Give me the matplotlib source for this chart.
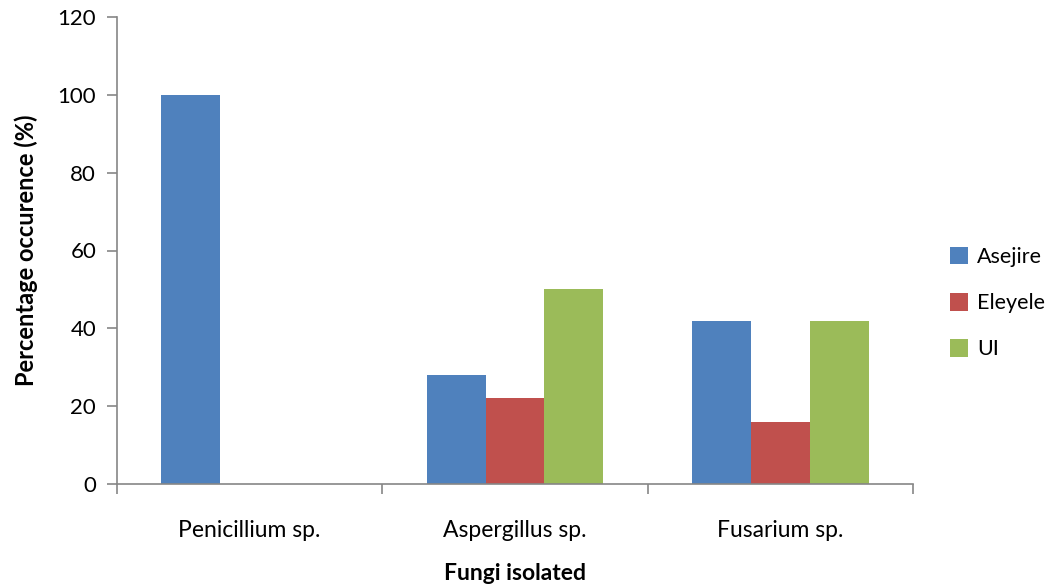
import matplotlib
matplotlib.use("Agg")
import matplotlib.pyplot as plt
import numpy as np

categories = ["Penicillium sp.", "Aspergillus sp.", "Fusarium sp."]
series_names = ["Asejire", "Eleyele", "UI"]
asejire = [100, 28, 42]
eleyele = [0, 22, 16]
ui = [0, 50, 42]
colors = ["#4F81BD", "#C0504D", "#9BBB59"]
yticks = [0, 20, 40, 60, 80, 100, 120]

plt.rcParams['font.family'] = ['Lato', 'DejaVu Sans']

fig = plt.figure(figsize=(10.49, 5.86), dpi=100)
ax = fig.add_axes([117/1049, 1-484/586, (913-117)/1049, (484-17)/586])

x = np.arange(len(categories))
bw = 1/4.5
for i, (vals, name) in enumerate(zip([asejire, eleyele, ui], series_names)):
    ax.bar(x + (i-1)*bw, vals, width=bw, color=colors[i], label=name, zorder=2)

ax.set_xlim(-0.5, len(categories)-0.5)
ax.set_ylim(0, 120)
ax.set_yticks(yticks)
ax.set_yticklabels([str(v) for v in yticks], fontsize=16)
ax.set_xticks(x)
ax.set_xticklabels(categories, fontsize=16.5)
ax.set_xticks(np.arange(-0.5, len(categories)), minor=True)
ax.tick_params(axis='x', which='major', length=0, pad=26)
ax.tick_params(axis='x', which='minor', length=7, width=1.2, color='#868686', direction='out')
ax.tick_params(axis='y', length=7, width=1.2, color='#868686', direction='out', pad=8)

for s in ['top', 'right']:
    ax.spines[s].set_visible(False)
for s in ['left', 'bottom']:
    ax.spines[s].set_color('#868686')
    ax.spines[s].set_linewidth(1.2)

ax.set_xlabel("Fungi isolated", fontsize=16.5, fontweight='bold', labelpad=16)
ax.set_ylabel("Percentage occurence (%)", fontsize=17, fontweight='bold', labelpad=14)

leg = fig.legend(loc='center left', bbox_to_anchor=(950/1049, 1-303/586), frameon=False,
                 fontsize=15.5, handlelength=0.85, handleheight=0.9, handletextpad=0.4,
                 labelspacing=1.2, borderpad=0, borderaxespad=0)

fig.savefig("out.png", dpi=100)
